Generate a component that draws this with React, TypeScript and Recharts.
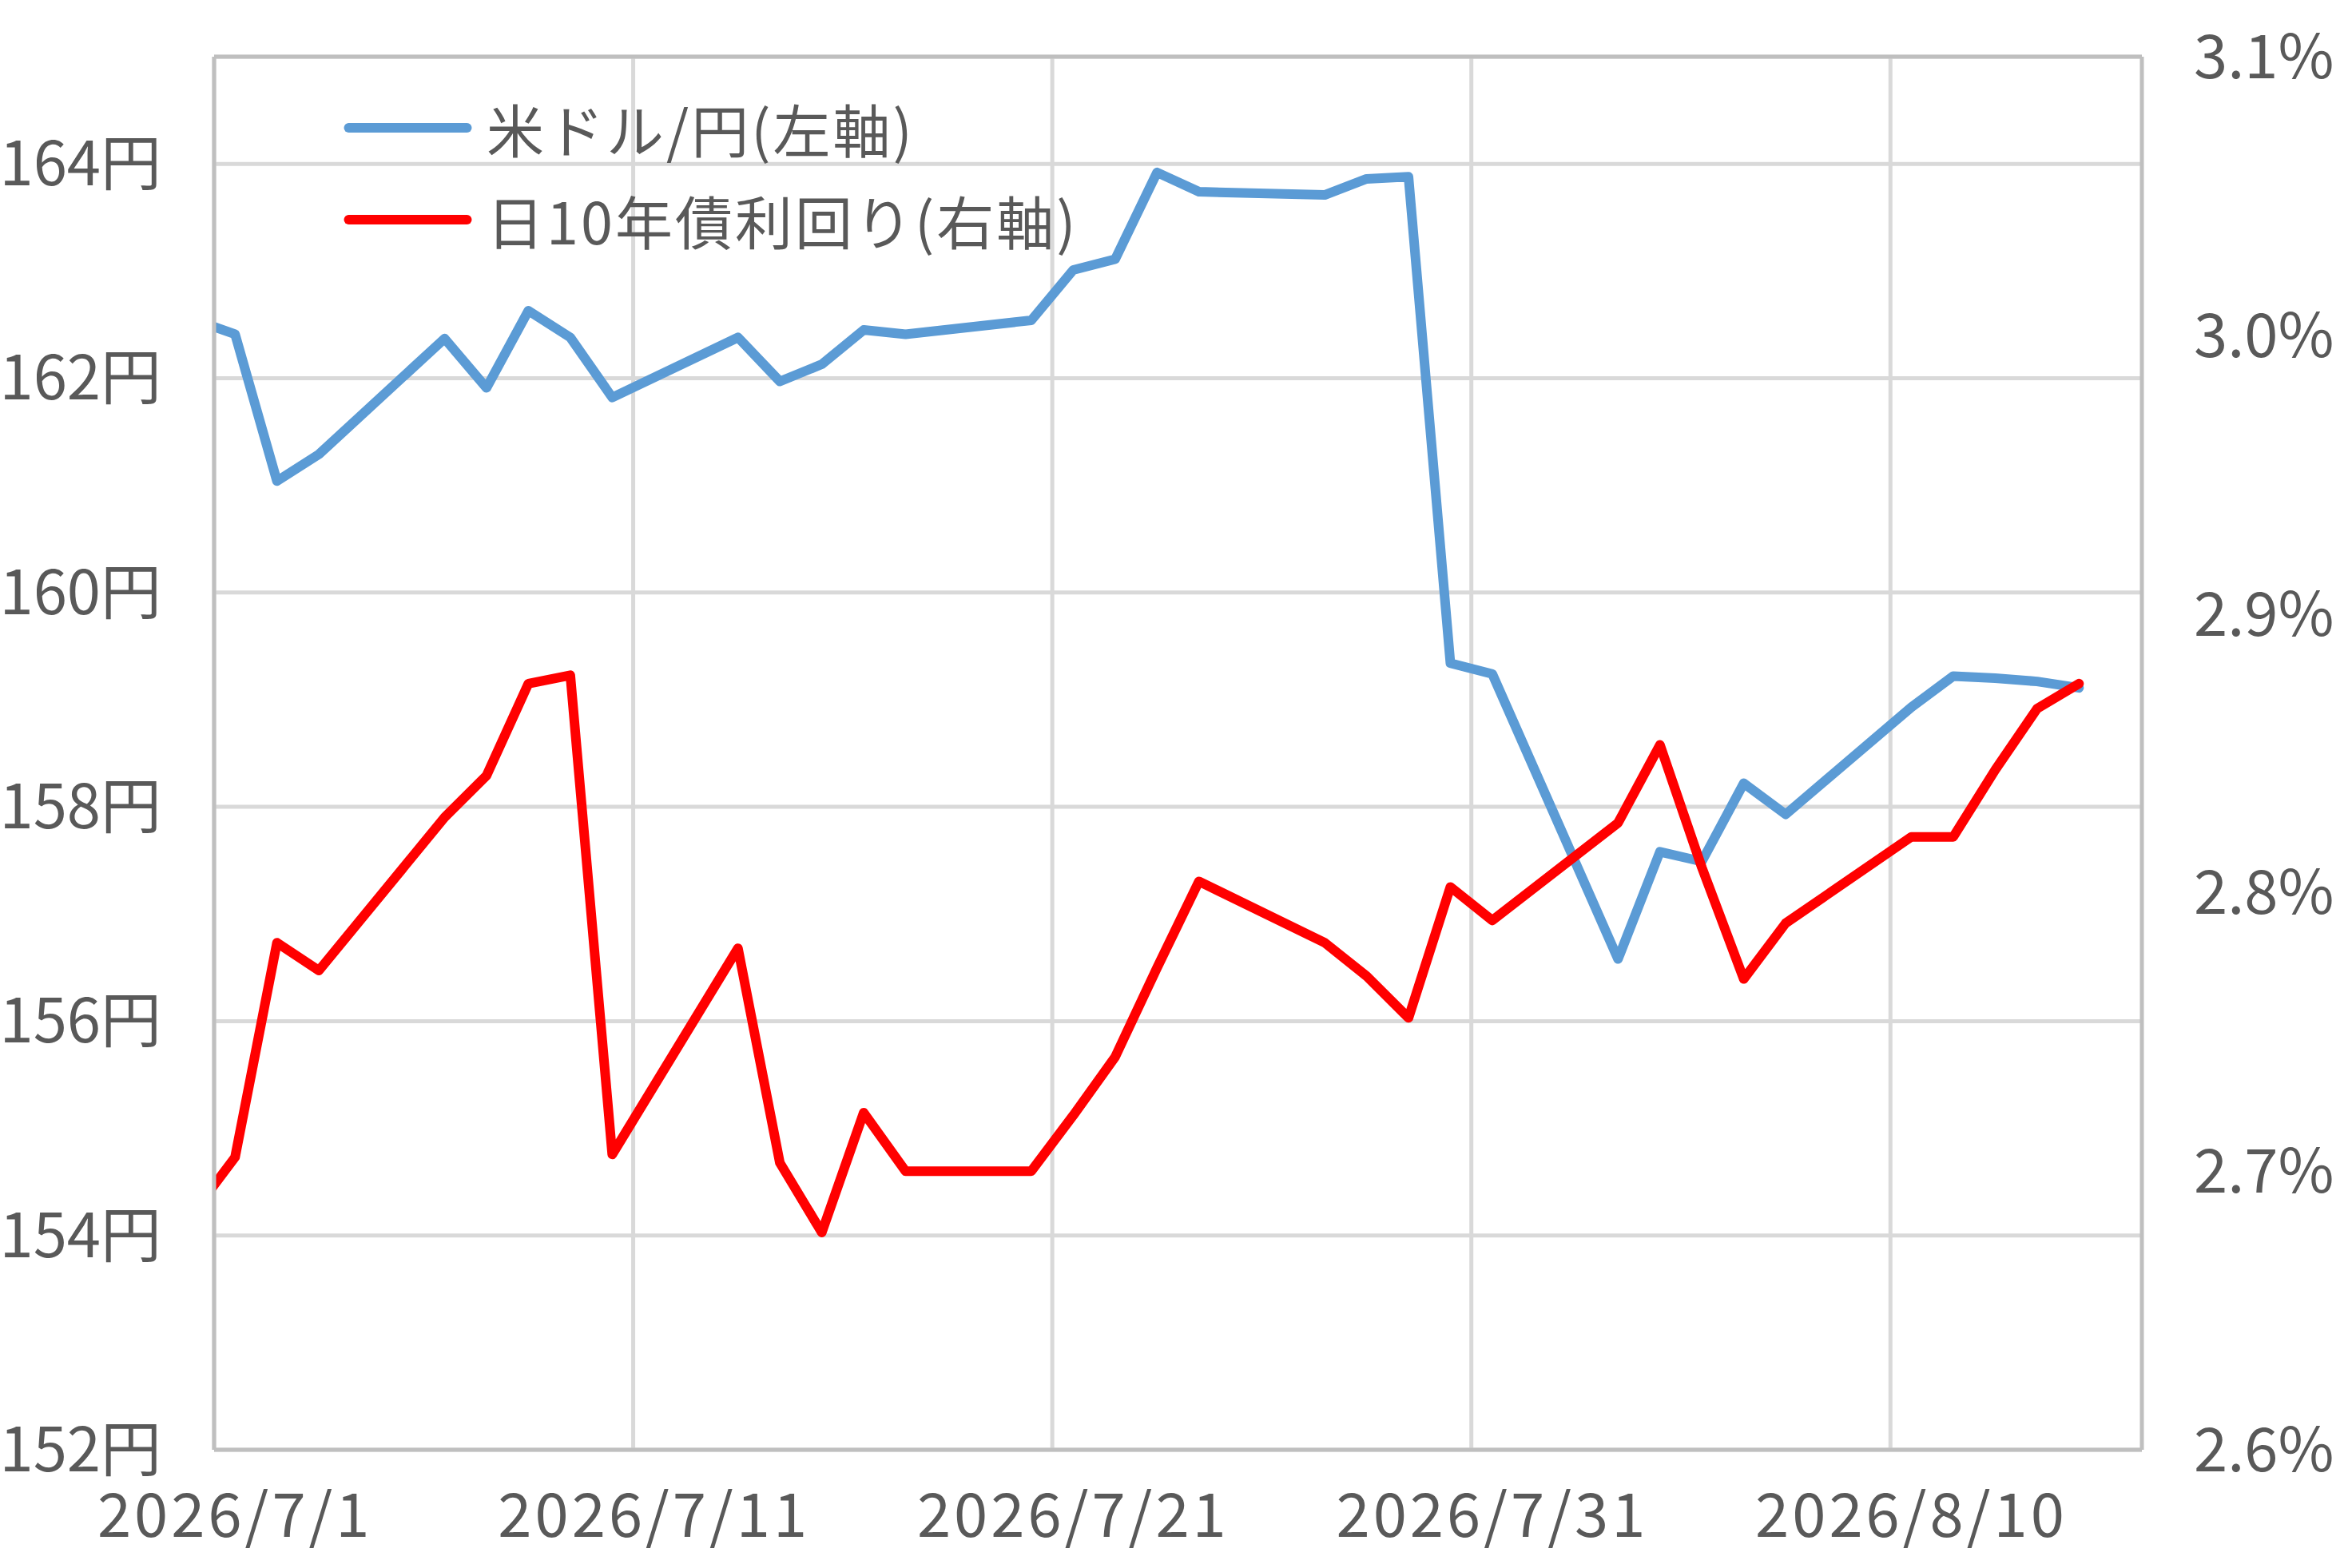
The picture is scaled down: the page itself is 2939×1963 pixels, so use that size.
import { CartesianGrid, Legend, Line, LineChart, ReferenceLine, XAxis, YAxis } from 'recharts'

// 米ドル/円と日本10年債利回りの日次推移（2軸）
const dates = [
  '2026/6/30', '2026/7/1', '2026/7/2', '2026/7/3', '2026/7/6', '2026/7/7', '2026/7/8',
  '2026/7/9', '2026/7/10', '2026/7/13', '2026/7/14', '2026/7/15', '2026/7/16', '2026/7/17',
  '2026/7/20', '2026/7/21', '2026/7/22', '2026/7/23', '2026/7/24', '2026/7/27', '2026/7/28',
  '2026/7/29', '2026/7/30', '2026/7/31', '2026/8/3', '2026/8/4', '2026/8/5', '2026/8/6',
  '2026/8/7', '2026/8/10', '2026/8/11', '2026/8/12', '2026/8/13', '2026/8/14',
]

const usdJpy = [
  162.55, 162.41, 161.04, 161.29, 162.37, 161.91, 162.63,
  162.38, 161.82, 162.38, 161.97, 162.13, 162.45, 162.41,
  162.54, 163.01, 163.11, 163.92, 163.74, 163.71, 163.86,
  163.88, 159.34, 159.24, 156.58, 157.58, 157.49, 158.22,
  157.93, 158.93, 159.22, 159.2, 159.17, 159.11,
]

const jgb10y = [
  2.685, 2.705, 2.782, 2.772, 2.827, 2.842, 2.875,
  2.878, 2.706, 2.78, 2.703, 2.678, 2.721, 2.7,
  2.7, 2.72, 2.741, 2.773, 2.804, 2.782, 2.77,
  2.755, 2.802, 2.79, 2.825, 2.853, 2.809, 2.769,
  2.789, 2.82, 2.82, 2.844, 2.866, 2.875,
]

const seriesNames = ['米ドル/円(左軸)', '日10年債利回り(右軸)']
const xLabelDates = ['2026/7/1', '2026/7/11', '2026/7/21', '2026/7/31', '2026/8/10']
const yenTicks = [152, 154, 156, 158, 160, 162, 164]
const yieldTicks = [2.6, 2.7, 2.8, 2.9, 3.0, 3.1]

const FONT = '"Noto Sans CJK JP", "Noto Sans", sans-serif'
const TEXT = '#595959'

// 日付 → 7/1 からの経過日数。Excel の「目盛の間」配置に合わせて点は日の中央 (+0.5) に置く
const ORIGIN = Date.UTC(2026, 6, 1)
function dayOf(s: string): number {
  const [y, m, d] = s.split('/').map(Number)
  return (Date.UTC(y, m - 1, d) - ORIGIN) / 86400000
}

const X_DOMAIN: [number, number] = [0, 46]
const data = dates.map((d, i) => ({ x: dayOf(d) + 0.5, usd: usdJpy[i], jgb: jgb10y[i] }))
const gridDays = xLabelDates.map(dayOf)
const labelPos = gridDays.map((d) => d + 0.5)

function LegendBox({ payload }: { payload?: Array<{ value: string; color: string }> }) {
  // Recharts 3 は凡例を名前順に並べるので、系列の順に戻す
  const items = [...(payload ?? [])].sort(
    (a, b) => seriesNames.indexOf(a.value) - seriesNames.indexOf(b.value),
  )
  return (
    <div style={{ fontFamily: FONT, fontSize: 72, color: TEXT, letterSpacing: 3 }}>
      {items.map((p) => (
        <div key={p.value} style={{ display: 'flex', alignItems: 'center', height: 115 }}>
          <svg width={180} height={20}>
            <line x1={16.5} x2={164.5} y1={10} y2={10} stroke={p.color} strokeWidth={12} strokeLinecap="round" />
          </svg>
          <span style={{ marginLeft: 9, whiteSpace: 'nowrap' }}>{p.value}</span>
        </div>
      ))}
    </div>
  )
}

export default function App() {
  const tick = { fontSize: 76, fill: TEXT, fontFamily: FONT }
  return (
    <div style={{ position: 'absolute', left: 0, top: 0, background: '#fff' }}>
      <LineChart width={2939} height={1963} data={data} margin={{ top: 71, right: 0, bottom: 0, left: 0 }}>
        <CartesianGrid
          yAxisId="left"
          stroke="#d9d9d9"
          strokeWidth={5}
          verticalCoordinatesGenerator={({ offset }: any) =>
            gridDays.map((d) => offset.left + ((d - X_DOMAIN[0]) / (X_DOMAIN[1] - X_DOMAIN[0])) * offset.width)
          }
        />
        <XAxis
          type="number"
          dataKey="x"
          domain={X_DOMAIN}
          allowDataOverflow
          ticks={labelPos}
          tickFormatter={(v: number) => xLabelDates[labelPos.indexOf(v)] ?? ''}
          height={148}
          tickSize={0}
          tickMargin={55}
          tickLine={false}
          axisLine={{ stroke: '#bfbfbf', strokeWidth: 5 }}
          tick={{ ...tick, letterSpacing: 4 }}
        />
        <YAxis
          yAxisId="left"
          domain={[152, 165]}
          ticks={yenTicks}
          tickFormatter={(v: number) => `${v}円`}
          width={268}
          tickSize={0}
          tickMargin={66}
          tickLine={false}
          axisLine={{ stroke: '#bfbfbf', strokeWidth: 5 }}
          tick={tick}
        />
        <YAxis
          yAxisId="right"
          orientation="right"
          domain={[2.6, 3.1]}
          ticks={yieldTicks}
          tickFormatter={(v: number) => `${v.toFixed(1)}%`}
          width={258}
          tickSize={0}
          tickMargin={65}
          tickLine={false}
          axisLine={{ stroke: '#bfbfbf', strokeWidth: 5 }}
          tick={tick}
        />
        <ReferenceLine yAxisId="left" y={165} stroke="#bfbfbf" strokeWidth={5} />
        <Legend
          layout="horizontal"
          verticalAlign="middle"
          align="center"
          wrapperStyle={{ left: 420, top: 102, width: 'auto' }}
          content={(props: any) => <LegendBox payload={props.payload} />}
        />
        <Line
          yAxisId="left"
          type="linear"
          dataKey="usd"
          name={seriesNames[0]}
          stroke="#5b9bd5"
          strokeWidth={12}
          strokeLinejoin="round"
          strokeLinecap="round"
          dot={false}
          isAnimationActive={false}
        />
        <Line
          yAxisId="right"
          type="linear"
          dataKey="jgb"
          name={seriesNames[1]}
          stroke="#ff0000"
          strokeWidth={12}
          strokeLinejoin="round"
          strokeLinecap="round"
          dot={false}
          isAnimationActive={false}
        />
      </LineChart>
    </div>
  )
}
